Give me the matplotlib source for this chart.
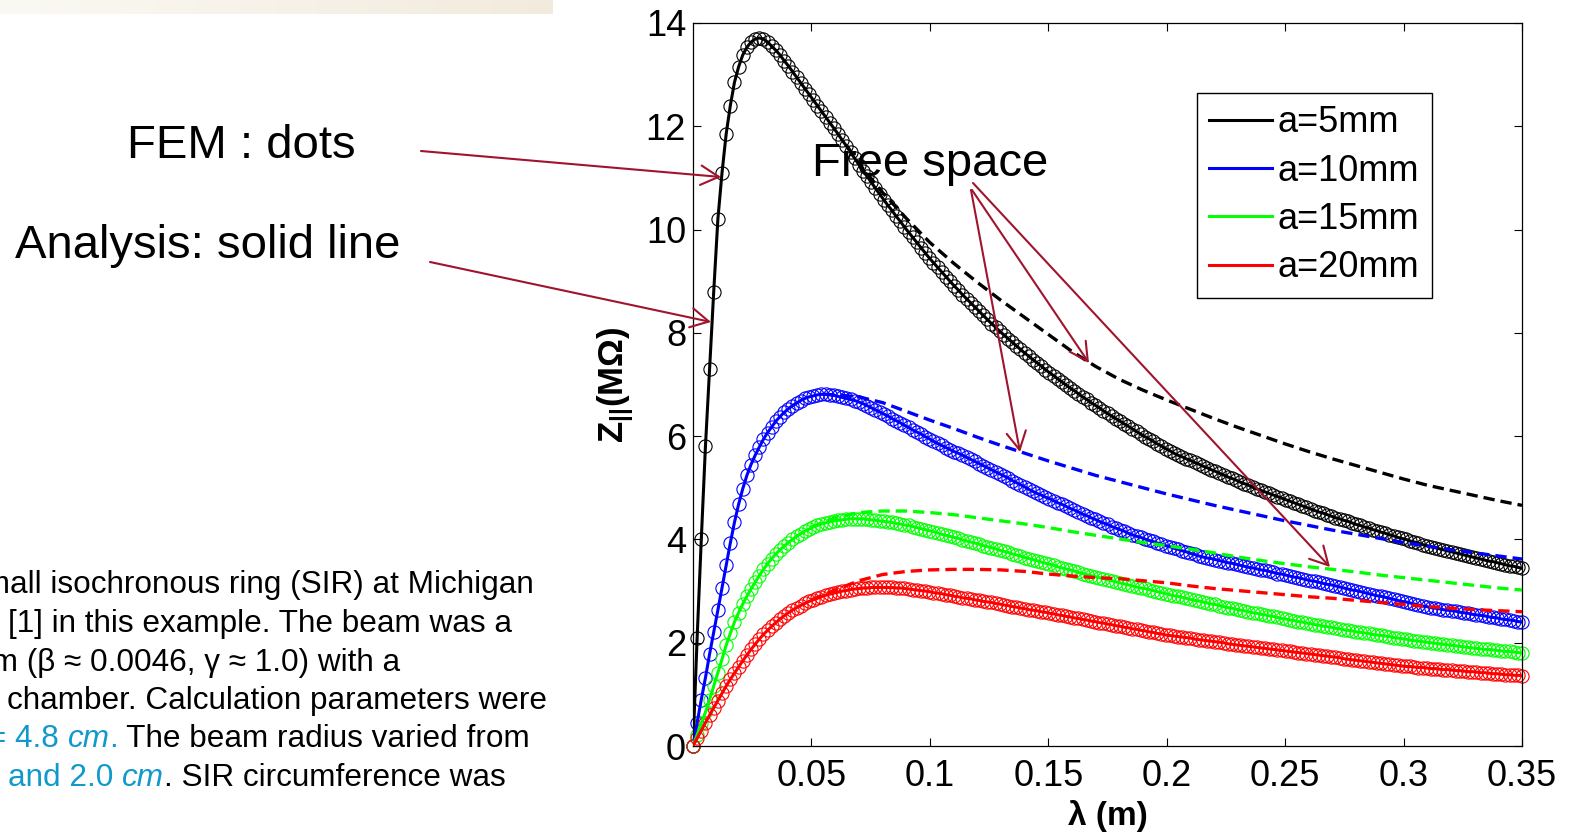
import numpy as np
import matplotlib
matplotlib.use('Agg')
import matplotlib.pyplot as plt
from matplotlib.colors import LinearSegmentedColormap
from matplotlib.patches import FancyArrowPatch

plt.rcParams['font.family'] = ['Liberation Sans', 'DejaVu Sans']
plt.rcParams['mathtext.fontset'] = 'custom'
plt.rcParams['mathtext.rm'] = 'Liberation Sans'
plt.rcParams['mathtext.bf'] = 'Liberation Sans:bold'
plt.rcParams['mathtext.it'] = 'Liberation Sans:italic'

W, H = 1572, 833

# FEM / analysis samples: 201 wavelengths from 0 to 0.35 m
lam = np.linspace(0.0, 0.35, 201)

z_a5 = [
    0.00, 2.10, 4.00, 5.80, 7.30, 8.80, 10.20, 11.10, 11.85, 12.40,
    12.85, 13.15, 13.38, 13.53, 13.63, 13.69, 13.71, 13.69, 13.63, 13.55,
    13.47, 13.38, 13.27, 13.17, 13.06, 12.95, 12.84, 12.73, 12.62, 12.51,
    12.40, 12.29, 12.18, 12.07, 11.96, 11.85, 11.73, 11.62, 11.50, 11.38,
    11.26, 11.14, 11.03, 10.92, 10.80, 10.69, 10.58, 10.47, 10.37, 10.26,
    10.16, 10.05, 9.95, 9.85, 9.75, 9.65, 9.55, 9.45, 9.36, 9.27,
    9.18, 9.09, 9.00, 8.91, 8.83, 8.74, 8.66, 8.58, 8.50, 8.42,
    8.34, 8.26, 8.18, 8.11, 8.03, 7.96, 7.89, 7.82, 7.75, 7.68,
    7.61, 7.55, 7.48, 7.42, 7.36, 7.29, 7.23, 7.17, 7.11, 7.05,
    6.99, 6.93, 6.88, 6.82, 6.76, 6.71, 6.65, 6.60, 6.55, 6.49,
    6.44, 6.39, 6.34, 6.29, 6.24, 6.19, 6.14, 6.09, 6.04, 5.99,
    5.95, 5.90, 5.85, 5.81, 5.76, 5.72, 5.67, 5.63, 5.60, 5.56,
    5.53, 5.49, 5.46, 5.42, 5.39, 5.35, 5.32, 5.28, 5.25, 5.21,
    5.18, 5.15, 5.11, 5.08, 5.05, 5.01, 4.98, 4.95, 4.92, 4.89,
    4.86, 4.83, 4.80, 4.77, 4.74, 4.71, 4.68, 4.65, 4.62, 4.59,
    4.56, 4.53, 4.51, 4.48, 4.45, 4.42, 4.40, 4.37, 4.35, 4.32,
    4.29, 4.27, 4.24, 4.22, 4.19, 4.17, 4.14, 4.12, 4.09, 4.07,
    4.04, 4.02, 4.00, 3.97, 3.95, 3.93, 3.90, 3.88, 3.86, 3.84,
    3.82, 3.80, 3.78, 3.76, 3.74, 3.72, 3.70, 3.68, 3.66, 3.64,
    3.62, 3.60, 3.58, 3.57, 3.55, 3.53, 3.51, 3.49, 3.48, 3.46,
    3.44,
]

z_a10 = [
    0.00, 0.45, 0.90, 1.32, 1.78, 2.20, 2.63, 3.06, 3.50, 3.93,
    4.33, 4.68, 4.98, 5.24, 5.45, 5.63, 5.79, 5.94, 6.07, 6.18,
    6.29, 6.38, 6.46, 6.53, 6.59, 6.64, 6.69, 6.73, 6.76, 6.78,
    6.80, 6.81, 6.81, 6.80, 6.79, 6.77, 6.75, 6.73, 6.71, 6.69,
    6.66, 6.63, 6.59, 6.55, 6.51, 6.47, 6.43, 6.39, 6.34, 6.30,
    6.26, 6.21, 6.17, 6.12, 6.08, 6.04, 5.99, 5.95, 5.90, 5.86,
    5.82, 5.78, 5.74, 5.70, 5.67, 5.63, 5.59, 5.55, 5.51, 5.47,
    5.43, 5.39, 5.35, 5.31, 5.27, 5.23, 5.19, 5.14, 5.10, 5.06,
    5.02, 4.97, 4.93, 4.89, 4.86, 4.82, 4.79, 4.75, 4.71, 4.68,
    4.64, 4.60, 4.57, 4.53, 4.49, 4.46, 4.42, 4.39, 4.35, 4.32,
    4.29, 4.25, 4.22, 4.19, 4.16, 4.12, 4.09, 4.06, 4.04, 4.01,
    3.98, 3.96, 3.93, 3.91, 3.88, 3.86, 3.83, 3.81, 3.78, 3.76,
    3.73, 3.71, 3.68, 3.66, 3.64, 3.63, 3.61, 3.59, 3.57, 3.55,
    3.54, 3.52, 3.50, 3.48, 3.46, 3.45, 3.43, 3.41, 3.40, 3.38,
    3.36, 3.34, 3.33, 3.31, 3.29, 3.27, 3.26, 3.24, 3.22, 3.20,
    3.19, 3.17, 3.15, 3.13, 3.12, 3.10, 3.08, 3.06, 3.04, 3.02,
    3.01, 2.99, 2.97, 2.95, 2.93, 2.91, 2.90, 2.88, 2.86, 2.84,
    2.82, 2.80, 2.79, 2.77, 2.75, 2.73, 2.71, 2.70, 2.68, 2.67,
    2.66, 2.64, 2.63, 2.62, 2.61, 2.59, 2.58, 2.57, 2.55, 2.54,
    2.53, 2.52, 2.50, 2.49, 2.48, 2.46, 2.45, 2.44, 2.43, 2.41,
    2.40,
]

z_a15 = [
    0.00, 0.22, 0.44, 0.65, 0.90, 1.16, 1.42, 1.68, 1.95, 2.18,
    2.40, 2.58, 2.75, 2.90, 3.04, 3.17, 3.30, 3.42, 3.53, 3.63,
    3.72, 3.80, 3.87, 3.94, 4.00, 4.06, 4.11, 4.16, 4.20, 4.24,
    4.27, 4.30, 4.32, 4.34, 4.36, 4.37, 4.38, 4.39, 4.40, 4.40,
    4.40, 4.40, 4.39, 4.38, 4.37, 4.36, 4.35, 4.34, 4.33, 4.31,
    4.30, 4.28, 4.27, 4.25, 4.23, 4.21, 4.19, 4.17, 4.15, 4.13,
    4.10, 4.08, 4.06, 4.04, 4.02, 3.99, 3.97, 3.95, 3.93, 3.91,
    3.88, 3.86, 3.84, 3.82, 3.79, 3.77, 3.75, 3.72, 3.70, 3.68,
    3.65, 3.63, 3.61, 3.59, 3.56, 3.54, 3.52, 3.50, 3.47, 3.45,
    3.43, 3.41, 3.39, 3.36, 3.34, 3.32, 3.30, 3.28, 3.26, 3.24,
    3.22, 3.20, 3.18, 3.16, 3.14, 3.12, 3.10, 3.08, 3.06, 3.05,
    3.03, 3.01, 2.99, 2.97, 2.95, 2.93, 2.91, 2.90, 2.88, 2.86,
    2.84, 2.82, 2.81, 2.79, 2.77, 2.75, 2.74, 2.72, 2.70, 2.68,
    2.67, 2.65, 2.63, 2.62, 2.60, 2.58, 2.57, 2.55, 2.54, 2.52,
    2.51, 2.49, 2.47, 2.46, 2.44, 2.43, 2.41, 2.40, 2.38, 2.37,
    2.35, 2.34, 2.32, 2.31, 2.30, 2.28, 2.27, 2.25, 2.24, 2.23,
    2.21, 2.20, 2.19, 2.18, 2.16, 2.15, 2.14, 2.13, 2.12, 2.10,
    2.09, 2.08, 2.07, 2.05, 2.04, 2.03, 2.02, 2.01, 2.00, 1.99,
    1.98, 1.97, 1.96, 1.95, 1.94, 1.93, 1.92, 1.91, 1.90, 1.89,
    1.88, 1.87, 1.87, 1.86, 1.85, 1.84, 1.83, 1.83, 1.82, 1.81,
    1.80,
]

z_a20 = [
    0.00, 0.15, 0.30, 0.45, 0.60, 0.74, 0.88, 1.02, 1.16, 1.29,
    1.41, 1.53, 1.65, 1.76, 1.87, 1.97, 2.07, 2.16, 2.24, 2.32,
    2.39, 2.46, 2.52, 2.58, 2.63, 2.68, 2.72, 2.76, 2.80, 2.83,
    2.86, 2.89, 2.92, 2.94, 2.96, 2.98, 3.00, 3.01, 3.03, 3.04,
    3.05, 3.06, 3.06, 3.07, 3.07, 3.07, 3.07, 3.07, 3.07, 3.06,
    3.06, 3.05, 3.04, 3.03, 3.02, 3.01, 3.00, 2.99, 2.97, 2.96,
    2.95, 2.93, 2.92, 2.90, 2.89, 2.87, 2.86, 2.85, 2.83, 2.82,
    2.80, 2.79, 2.78, 2.76, 2.75, 2.73, 2.72, 2.70, 2.69, 2.67,
    2.66, 2.64, 2.63, 2.62, 2.60, 2.59, 2.57, 2.56, 2.54, 2.53,
    2.51, 2.50, 2.48, 2.47, 2.45, 2.44, 2.42, 2.41, 2.39, 2.38,
    2.36, 2.35, 2.33, 2.32, 2.30, 2.29, 2.27, 2.26, 2.24, 2.23,
    2.21, 2.20, 2.18, 2.17, 2.15, 2.14, 2.13, 2.12, 2.11, 2.10,
    2.09, 2.07, 2.06, 2.05, 2.04, 2.03, 2.02, 2.01, 2.00, 1.98,
    1.97, 1.96, 1.95, 1.94, 1.93, 1.92, 1.91, 1.90, 1.89, 1.88,
    1.87, 1.86, 1.85, 1.84, 1.83, 1.82, 1.81, 1.80, 1.79, 1.78,
    1.77, 1.76, 1.75, 1.74, 1.73, 1.72, 1.71, 1.69, 1.68, 1.67,
    1.66, 1.65, 1.64, 1.63, 1.62, 1.61, 1.60, 1.59, 1.58, 1.57,
    1.56, 1.55, 1.54, 1.54, 1.53, 1.52, 1.52, 1.51, 1.50, 1.50,
    1.49, 1.48, 1.48, 1.47, 1.46, 1.46, 1.45, 1.44, 1.44, 1.43,
    1.42, 1.42, 1.41, 1.40, 1.40, 1.39, 1.38, 1.38, 1.37, 1.37,
    1.36,
]

# free space impedance (dashed), only where it leaves the chamber curve
lam_free_a5 = [0.065, 0.07, 0.08, 0.09, 0.10, 0.11, 0.12, 0.13, 0.14, 0.15,
               0.16, 0.17, 0.18, 0.19, 0.20, 0.21, 0.22, 0.23, 0.24, 0.25,
               0.26, 0.27, 0.28, 0.29, 0.30, 0.31, 0.32, 0.33, 0.34, 0.35]
free_a5 = [11.62, 11.28, 10.72, 10.22, 9.75, 9.35, 8.98, 8.63, 8.30, 7.97,
           7.64, 7.35, 7.10, 6.89, 6.70, 6.52, 6.34, 6.17, 6.01, 5.85,
           5.70, 5.56, 5.43, 5.30, 5.17, 5.05, 4.95, 4.85, 4.75, 4.66]

lam_free_a10 = [0.055, 0.06, 0.07, 0.08, 0.09, 0.10, 0.11, 0.12, 0.13, 0.14,
                0.15, 0.16, 0.17, 0.18, 0.19, 0.20, 0.21, 0.22, 0.23, 0.24,
                0.25, 0.26, 0.27, 0.28, 0.29, 0.30, 0.31, 0.32, 0.33, 0.34,
                0.35]
free_a10 = [6.81, 6.80, 6.76, 6.65, 6.48, 6.31, 6.15, 5.98, 5.82, 5.67,
            5.52, 5.38, 5.24, 5.12, 5.00, 4.88, 4.77, 4.66, 4.56, 4.46,
            4.36, 4.27, 4.18, 4.10, 4.02, 3.94, 3.87, 3.80, 3.74, 3.68,
            3.62]

lam_free_a15 = [0.05, 0.06, 0.07, 0.08, 0.09, 0.10, 0.11, 0.12, 0.13, 0.14,
                0.15, 0.16, 0.17, 0.18, 0.19, 0.20, 0.21, 0.22, 0.23, 0.24,
                0.25, 0.26, 0.27, 0.28, 0.29, 0.30, 0.31, 0.32, 0.33, 0.34,
                0.35]
free_a15 = [4.24, 4.42, 4.52, 4.55, 4.55, 4.52, 4.48, 4.42, 4.36, 4.30,
            4.23, 4.15, 4.08, 4.01, 3.94, 3.88, 3.81, 3.74, 3.66, 3.59,
            3.53, 3.47, 3.42, 3.37, 3.31, 3.26, 3.21, 3.16, 3.11, 3.06,
            3.02]

lam_free_a20 = lam_free_a15
free_a20 = [2.83, 3.02, 3.20, 3.32, 3.38, 3.41, 3.42, 3.42, 3.41, 3.38,
            3.33, 3.29, 3.26, 3.24, 3.20, 3.16, 3.10, 3.05, 3.01, 2.97,
            2.93, 2.89, 2.86, 2.82, 2.78, 2.74, 2.70, 2.67, 2.64, 2.62,
            2.60]

labels = ['a=5mm', 'a=10mm', 'a=15mm', 'a=20mm']
colors = ['#000000', '#0000ff', '#00ff00', '#ff0000']
xticks = [0.05, 0.10, 0.15, 0.20, 0.25, 0.30, 0.35]
xtick_labels = ['0.05', '0.1', '0.15', '0.2', '0.25', '0.3', '0.35']
yticks = [0, 2, 4, 6, 8, 10, 12, 14]

ARROW = '#a0142d'
NOTE_BLUE = '#1199cc'

fig = plt.figure(figsize=(W / 100, H / 100), dpi=100)

# light beige strip at the top of the slide
bar = fig.add_axes([0, 1 - 14 / H, 553 / W, 14 / H])
bar.imshow(np.linspace(0, 1, 256)[None, :], aspect='auto',
           cmap=LinearSegmentedColormap.from_list('strip', ['#fbf9f4', '#f2ebdd']))
bar.axis('off')

ax = fig.add_axes([693 / W, (H - 746) / H, (1522 - 693) / W, (746 - 23) / H])

series = [z_a5, z_a10, z_a15, z_a20]
for z, c, lab in zip(series, colors, labels):
    ax.plot(lam, z, ls='none', marker='o', ms=9.5, mfc='none', mec=c, mew=0.8,
            zorder=2, clip_on=False)
    ax.plot(lam, z, color=c, lw=2.2, zorder=3, label=lab)

free = [(lam_free_a5, free_a5), (lam_free_a10, free_a10),
        (lam_free_a15, free_a15), (lam_free_a20, free_a20)]
for (x, z), c in zip(free, colors):
    ax.plot(x, z, color=c, lw=2.4, ls=(0, (3.4, 1.8)), zorder=4)

ax.set_xlim(0, 0.35)
ax.set_ylim(0, 14)
ax.set_xticks(xticks)
ax.set_xticklabels(xtick_labels)
ax.set_yticks(yticks)
ax.tick_params(direction='in', length=6, width=0.8, top=True, right=True, labelsize=26)
ax.tick_params(axis='x', pad=9)
ax.tick_params(axis='y', pad=5)
for sp in ax.spines.values():
    sp.set_linewidth(0.9)

ax.set_xlabel('λ (m)', fontsize=24, fontweight='bold')
ax.xaxis.set_label_coords(0.5, -0.075)
ax.set_ylabel(r'$\mathbf{Z_{||}(MΩ)}$', fontsize=25)
ax.yaxis.set_label_coords(-0.069, 0.5)

leg = ax.legend(loc='upper left', bbox_to_anchor=(1197 / W, 1 - 93 / H),
                bbox_transform=fig.transFigure, fontsize=26, fancybox=False,
                edgecolor='black', framealpha=1, handlelength=1.75,
                handletextpad=0.15, labelspacing=0.37, borderpad=0.34,
                borderaxespad=0)
leg.get_frame().set_linewidth(1.0)


def px(x, y):
    # image pixel (from top-left) -> figure fraction
    return x / W, 1 - y / H


# annotations
fig.text(*px(127, 158), 'FEM : dots', fontsize=34, va='baseline')
fig.text(*px(15, 258), 'Analysis: solid line', fontsize=34, va='baseline')
fig.text(*px(812, 176), 'Free space', fontsize=34, va='baseline', zorder=6)

arrows = [
    ((421, 151), (721, 177)),
    ((430, 262), (711, 322)),
    ((972, 190), (1089, 363)),
    ((971, 190), (1020, 452)),
    ((973, 183), (1330, 567)),
]
for a, b in arrows:
    fig.add_artist(FancyArrowPatch(px(*a), px(*b), transform=fig.transFigure,
                                   arrowstyle='->,head_length=0.65,head_width=0.35',
                                   mutation_scale=20, lw=1.5, color=ARROW,
                                   shrinkA=0, shrinkB=0, zorder=10))

# slide body text at the lower left (runs off the left edge)
renderer = fig.canvas.get_renderer()
NOTE_SIZE = 22.7


def seg_width(s, style):
    t = fig.text(0, 0, '|' + s + '|', fontsize=NOTE_SIZE, style=style)
    w1 = t.get_window_extent(renderer).width
    t.remove()
    t = fig.text(0, 0, '||', fontsize=NOTE_SIZE, style=style)
    w0 = t.get_window_extent(renderer).width
    t.remove()
    return w1 - w0


def note_line(x, y, parts):
    for s, color, style in parts:
        fig.text(*px(x, y), s, fontsize=NOTE_SIZE, color=color, style=style,
                 va='baseline')
        x += seg_width(s, style)


K = 'black'
note_line(-32, 593.5, [('small isochronous ring (SIR) at Michigan', K, 'normal')])
note_line(8, 632, [('[1] in this example. The beam was a', K, 'normal')])
note_line(-61, 670.5, [('beam (β ≈ 0.0046, γ ≈ 1.0) with a', K, 'normal')])
note_line(6.7, 709, [('chamber. Calculation parameters were', K, 'normal')])
note_line(-12, 747, [('= 4.8 ', NOTE_BLUE, 'normal'), ('cm', NOTE_BLUE, 'italic'),
                     ('.', NOTE_BLUE, 'normal'),
                     (' The beam radius varied from', K, 'normal')])
note_line(8.3, 785.5, [('and 2.0 ', NOTE_BLUE, 'normal'), ('cm', NOTE_BLUE, 'italic'),
                       ('. SIR circumference was', K, 'normal')])

fig.savefig('out.png', dpi=100)
